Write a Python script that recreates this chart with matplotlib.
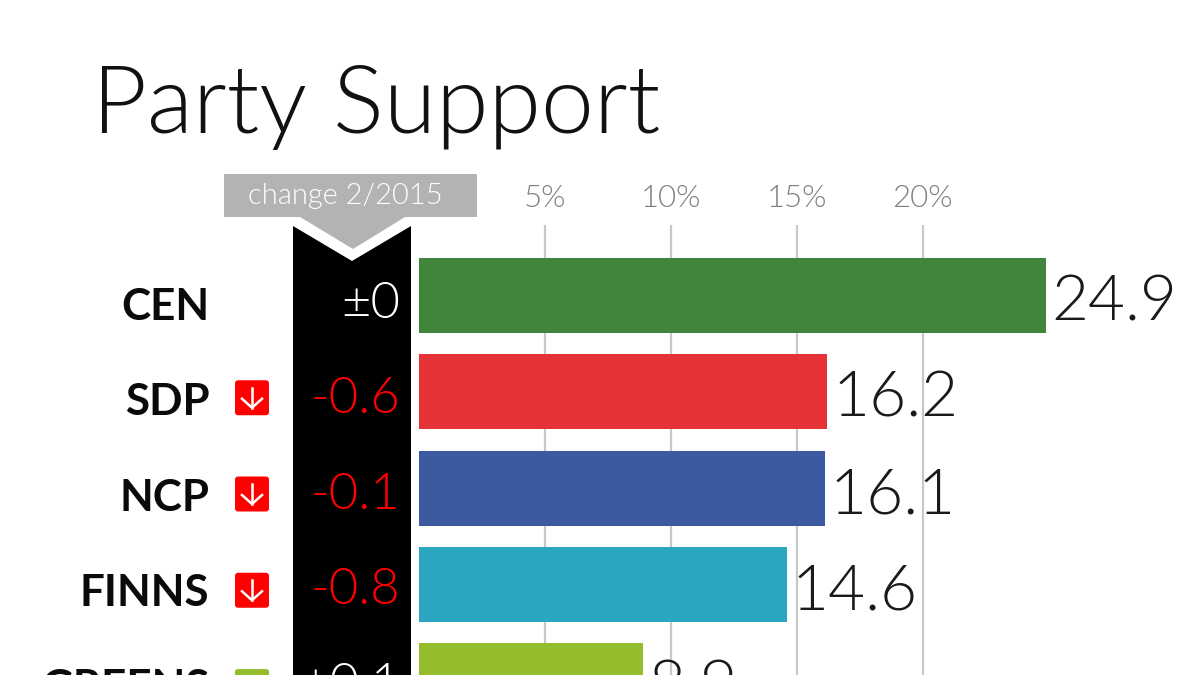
import matplotlib
matplotlib.use("Agg")
import matplotlib.pyplot as plt
from matplotlib import font_manager as fm
from matplotlib.patches import Polygon, FancyBboxPatch
from matplotlib.lines import Line2D
from matplotlib.transforms import Affine2D

parties = ["CEN", "SDP", "NCP", "FINNS", "GREENS"]
support = [24.9, 16.2, 16.1, 14.6, 8.9]
support_labels = ["24.9", "16.2", "16.1", "14.6", "8.9"]
changes = [0.0, -0.6, -0.1, -0.8, 0.1]
change_labels = ["±0", "-0.6", "-0.1", "-0.8", "+0.1"]
colors = ["#41843c", "#e63338", "#3b5aa0", "#2aa6c1", "#94bd2e"]
xticks = [5, 10, 15, 20]
xticklabels = ["5%", "10%", "15%", "20%"]
title = "Party Support"
change_title = "change 2/2015"


def pick(fragment, family="Lato"):
    """Font file of a family whose file name has the given style, else the family by name."""
    for f in fm.fontManager.ttflist:
        base = f.fname.rsplit("/", 1)[-1].lower()
        if f.name == family and base.endswith(fragment + ".ttf"):
            return fm.FontProperties(fname=f.fname)
    return fm.FontProperties(family=family)


LIGHT = pick("-light")
BOLD = pick("-bold")


def fp(base, size):
    p = base.copy()
    p.set_size(size)
    return p


W, H = 1200, 675
fig = plt.figure(figsize=(12, 6.75), dpi=100, facecolor="white")
PX = Affine2D().scale(1 / W, -1 / H).translate(0, 1) + fig.transFigure

X0, PXU = 419, 25.2
Y0, PITCH = 295.5, 96.25
TEXT_PITCH = 95.3
TOP = 225
ax = fig.add_axes([X0 / W, 0, 1 - X0 / W, (H - TOP) / H])
ax.set_xlim(0, (W - X0) / PXU)
ax.set_ylim((H - Y0) / PITCH, (TOP - Y0) / PITCH)
ax.patch.set_alpha(0)
for s in ax.spines.values():
    s.set_visible(False)
ax.set_axisbelow(True)
ax.xaxis.grid(True, color="#c8c8c8", lw=1.6)
ax.xaxis.tick_top()
ax.set_xticks(xticks, xticklabels, color="#808080")
for t in ax.get_xticklabels():
    t.set_fontproperties(fp(LIGHT, 22.5))
ax.tick_params(axis="x", length=0, pad=8.5)
ax.set_yticks([])

rows = list(range(len(parties)))
ax.barh(rows, support, height=75 / PITCH, color=colors, zorder=2)

fig.text(92 / W, 1 - 133 / H, title, fontproperties=fp(LIGHT, 68.5), color="#111111")

col = Polygon([(293, 226), (352, 261), (411, 226), (411, 675), (293, 675)],
              closed=True, fc="black", ec="none", transform=PX)
fig.add_artist(col)
fig.add_artist(Polygon([(224, 174), (477, 174), (477, 217), (405, 217), (353, 249),
                        (300, 217), (224, 217)], closed=True, fc="#b3b3b3", ec="none", transform=PX))
fig.text(345.5 / W, 1 - 196 / H, change_title, fontproperties=fp(LIGHT, 21), color="white",
         ha="center", va="center")

UP, DOWN = "#94bd2e", "#ff0000"
for i, (name, val, vl, ch, cl) in enumerate(zip(parties, support, support_labels, changes, change_labels)):
    yc = Y0 + PITCH * i
    ax.annotate(vl, (val, i), xytext=(3.5, -1.5), textcoords="offset points", fontproperties=fp(LIGHT, 46),
                color="#1a1a1a", ha="left", va="center_baseline", annotation_clip=False, zorder=3)
    fig.text(209.5 / W, 1 - (320 + TEXT_PITCH * i) / H, name, fontproperties=fp(BOLD, 31.7), color="#0a0a0a",
             ha="right", va="baseline")
    txtcol = "white" if ch >= 0 else "#ff0000"
    fig.text(400.5 / W, 1 - (318 + TEXT_PITCH * i) / H, cl, fontproperties=fp(LIGHT, 36.5), color=txtcol,
             ha="right", va="baseline", zorder=5)
    if ch != 0:
        ic = yc + 6
        c = DOWN if ch < 0 else UP
        fig.add_artist(FancyBboxPatch((238, ic - 14.5), 28, 29, boxstyle="round,pad=3,rounding_size=3",
                                      fc=c, ec="none", transform=PX))
        d = 1 if ch < 0 else -1
        fig.add_artist(Line2D([252, 252], [ic - 10 * d, ic + 10 * d], color="white", lw=1.8, transform=PX))
        fig.add_artist(Line2D([242, 252, 262], [ic + 1 * d, ic + 10 * d, ic + 1 * d], color="white", lw=1.8,
                              transform=PX))

fig.savefig("out.png", dpi=100)
